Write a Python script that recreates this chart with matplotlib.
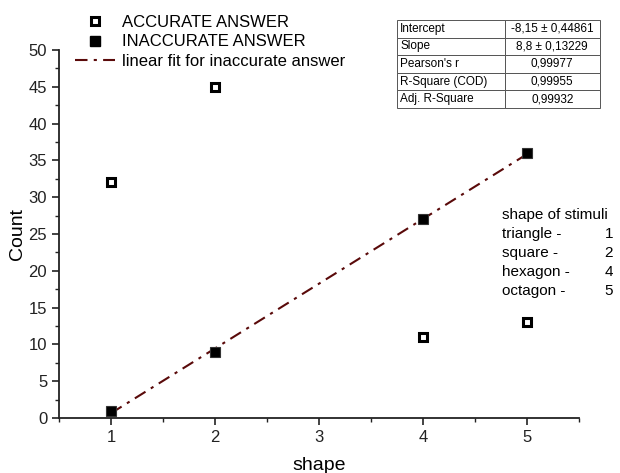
import matplotlib
matplotlib.use("Agg")
import matplotlib.pyplot as plt
from matplotlib.lines import Line2D
from matplotlib.ticker import MultipleLocator
import numpy as np

plt.rcParams['font.family'] = ['Liberation Sans', 'DejaVu Sans']

shape_x = [1, 2, 4, 5]
accurate = [32, 45, 11, 13]
inaccurate = [1, 9, 27, 36]
fit_intercept = -8.15
fit_slope = 8.8
table_rows = [["Intercept", "-8,15 ± 0,44861"],
              ["Slope", "8,8 ± 0,13229"],
              ["Pearson's r", "0,99977"],
              ["R-Square (COD)", "0,99955"],
              ["Adj. R-Square", "0,99932"]]
stimuli_names = ["triangle -", "square -", "hexagon -", "octagon -"]
stimuli_codes = ["1", "2", "4", "5"]

fig = plt.figure(figsize=(6.2, 4.73), dpi=100)
ax = fig.add_axes([59/620, 1-418/473, (579-59)/620, (418-50)/473])

fit_color = '#5a0a0a'
fit_style = (0, (6, 3, 1.5, 3))
fit_x = np.array([shape_x[0], shape_x[-1]])
fit_y = fit_intercept + fit_slope * fit_x
ax.plot(fit_x, fit_y, color=fit_color, lw=1.5, linestyle=fit_style, zorder=2)
ax.plot(shape_x, accurate, linestyle='none', marker='s', markersize=6,
        markerfacecolor='white', markeredgecolor='black', markeredgewidth=2.2, zorder=3)
ax.plot(shape_x, inaccurate, linestyle='none', marker='s', markersize=7.5,
        markerfacecolor='black', markeredgecolor='#333333', markeredgewidth=0.8, zorder=3)

ax.set_xlim(0.5, 5.5)
ax.set_ylim(0, 50)
ax.set_xticks([1, 2, 3, 4, 5])
ax.xaxis.set_minor_locator(MultipleLocator(0.5))
ax.yaxis.set_major_locator(MultipleLocator(5))
ax.yaxis.set_minor_locator(MultipleLocator(2.5))
for s in ['top', 'right']:
    ax.spines[s].set_visible(False)
for s in ['left', 'bottom']:
    ax.spines[s].set_linewidth(1.3)
    ax.spines[s].set_color('#222222')
ax.tick_params(which='major', direction='out', length=5, width=1.2, labelsize=12, colors='#222222')
ax.tick_params(which='minor', direction='out', length=3, width=1.0, colors='#222222')
ax.set_xlabel("shape", fontsize=14, labelpad=9)
ax.set_ylabel("Count", fontsize=14, labelpad=1.5)

handles = [
    Line2D([], [], linestyle='none', marker='s', markersize=6, markerfacecolor='white',
           markeredgecolor='black', markeredgewidth=2.2),
    Line2D([], [], linestyle='none', marker='s', markersize=7.5, markerfacecolor='black',
           markeredgecolor='black'),
    Line2D([], [], color=fit_color, lw=1.5, linestyle=fit_style),
]
labels = ["ACCURATE ANSWER", "INACCURATE ANSWER", "linear fit for inaccurate answer"]
fig.legend(handles, labels, loc='upper left', bbox_to_anchor=(67/620, 1-7/473),
           frameon=False, fontsize=12, handlelength=2.4, handletextpad=0.4,
           labelspacing=0.25, borderpad=0)

tbl = fig.add_axes([397/620, 1-108/473, 203/620, 88/473])
tbl.axis('off')
t = tbl.table(cellText=table_rows, bbox=[0, 0, 1, 1], colWidths=[0.53, 0.47])
t.auto_set_font_size(False)
for (r, c), cell in t.get_celld().items():
    cell.set_linewidth(0.7)
    cell.set_edgecolor('#555555')
    cell.get_text().set_fontsize(8.5)
    if c == 0:
        cell.get_text().set_ha('left')
        cell.PAD = 0.03
    else:
        cell.get_text().set_ha('center')

fig.text(502/620, 1-215/473, "shape of stimuli", fontsize=11, va='center', ha='left')
for i, (n, c) in enumerate(zip(stimuli_names, stimuli_codes)):
    y = 1 - (234 + 19*i)/473
    fig.text(502/620, y, n, fontsize=11, va='center', ha='left')
    fig.text(613/620, y, c, fontsize=11, va='center', ha='right')

fig.savefig("out.png", dpi=100)
